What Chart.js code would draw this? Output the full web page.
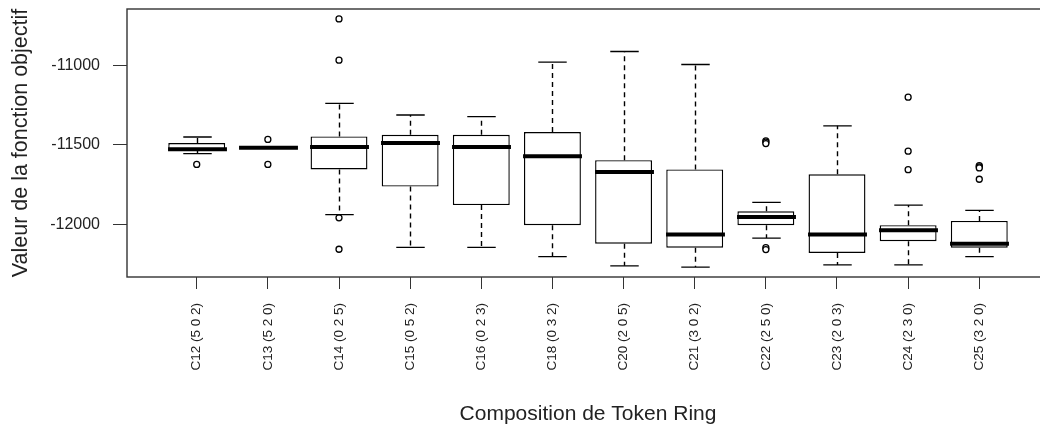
<!DOCTYPE html>
<html>
<head>
<meta charset="utf-8">
<script src="https://cdn.jsdelivr.net/npm/chart.js@4"></script>
<style>
  html, body { margin: 0; padding: 0; background: #fff; overflow: hidden; }
</style>
</head>
<body>
<canvas id="boxChart" width="1060" height="427"></canvas>
<script>
// Data
const categories = ['C12 (5 0 2)', 'C13 (5 2 0)', 'C14 (0 2 5)', 'C15 (0 5 2)', 'C16 (0 2 3)', 'C18 (0 3 2)',
  'C20 (2 0 5)', 'C21 (3 0 2)', 'C22 (2 5 0)', 'C23 (2 0 3)', 'C24 (2 3 0)', 'C25 (3 2 0)'];
const positions = [1, 2, 3, 4, 5, 6, 7, 8, 9, 10, 11, 12];
const whiskerLow = [-11555, -11521, -11938, -12143, -12143, -12201, -12259, -12267, -12085, -12253, -12253, -12201];
const q1 = [-11535, -11521, -11654, -11762, -11878, -12004, -12120, -12145, -12004, -12178, -12104, -12145];
const medians = [-11528, -11519, -11514, -11489, -11514, -11571, -11671, -12062, -11952, -12062, -12035, -12120];
const q3 = [-11489, -11517, -11447, -11437, -11437, -11420, -11596, -11654, -11917, -11685, -12004, -11977];
const whiskerHigh = [-11451, -11517, -11240, -11313, -11323, -10981, -10915, -10996, -11861, -11381, -11878, -11911];
const outliers = [
  [-11623],
  [-11466, -11623],
  [-10710, -10969, -11958, -12155],
  [], [], [], [], [],
  [-11475, -11483, -11492, -12145, -12157],
  [],
  [-11201, -11540, -11656],
  [-11630, -11638, -11645, -11716]
];
const yTicks = [-12000, -11500, -11000];

// Flatten outliers into points
const outlierPoints = [];
outliers.forEach((list, i) => {
  list.forEach(v => outlierPoints.push({ x: positions[i], y: v }));
});

// Whiskers, caps, medians and frame drawn through the scales
const boxExtras = {
  id: 'boxExtras',
  afterDatasetsDraw(chart) {
    const { ctx, chartArea, scales: { x, y } } = chart;
    const step = x.getPixelForValue(2) - x.getPixelForValue(1);
    const boxW = step * 0.8;
    const capW = boxW * 0.5;
    ctx.save();
    ctx.strokeStyle = '#000';
    positions.forEach((p, i) => {
      const cx = Math.round(x.getPixelForValue(p)) + 0.5;
      // dashed whiskers
      ctx.lineWidth = 1.4;
      ctx.setLineDash([5, 4]);
      ctx.beginPath();
      ctx.moveTo(cx, y.getPixelForValue(q3[i]));
      ctx.lineTo(cx, y.getPixelForValue(whiskerHigh[i]));
      ctx.moveTo(cx, y.getPixelForValue(q1[i]));
      ctx.lineTo(cx, y.getPixelForValue(whiskerLow[i]));
      ctx.stroke();
      // caps
      ctx.setLineDash([]);
      ctx.beginPath();
      ctx.moveTo(cx - capW / 2, y.getPixelForValue(whiskerHigh[i]));
      ctx.lineTo(cx + capW / 2, y.getPixelForValue(whiskerHigh[i]));
      ctx.moveTo(cx - capW / 2, y.getPixelForValue(whiskerLow[i]));
      ctx.lineTo(cx + capW / 2, y.getPixelForValue(whiskerLow[i]));
      ctx.stroke();
      // median
      ctx.lineWidth = 4;
      ctx.beginPath();
      ctx.moveTo(cx - boxW / 2 - 1, y.getPixelForValue(medians[i]));
      ctx.lineTo(cx + boxW / 2 + 1, y.getPixelForValue(medians[i]));
      ctx.stroke();
    });
    // plot frame
    ctx.lineWidth = 1.4;
    ctx.strokeStyle = '#333';
    ctx.strokeRect(chartArea.left, chartArea.top, chartArea.right - chartArea.left, chartArea.bottom - chartArea.top);
    ctx.restore();
  }
};

const ctx = document.getElementById('boxChart');
new Chart(ctx, {
  type: 'bar',
  data: {
    datasets: [
      {
        label: 'Boîtes',
        data: positions.map((p, i) => ({ x: p, y: [q1[i], q3[i]] })),
        backgroundColor: '#ffffff',
        borderColor: '#000000',
        borderWidth: 1.4,
        borderSkipped: false,
        barPercentage: 0.8,
        categoryPercentage: 1.0,
        order: 2
      },
      {
        type: 'scatter',
        label: 'Valeurs extrêmes',
        data: outlierPoints,
        pointStyle: 'circle',
        pointRadius: 3,
        pointBackgroundColor: '#ffffff',
        pointBorderColor: '#000000',
        pointBorderWidth: 1.3,
        order: 1
      }
    ]
  },
  options: {
    responsive: false,
    animation: false,
    layout: {
      padding: { left: 0, top: 9, right: 11, bottom: 0 }
    },
    plugins: {
      legend: { display: false },
      tooltip: { enabled: false }
    },
    scales: {
      x: {
        type: 'linear',
        min: 0.02,
        max: 12.98,
        offset: false,
        grid: { offset: false, drawOnChartArea: false, drawTicks: true, tickLength: 12, color: '#333' },
        border: { display: false },
        afterBuildTicks: function (scale) {
          scale.ticks = positions.map(v => ({ value: v }));
        },
        afterFit: function (scale) {
          scale.height = 150;
          scale.paddingLeft = 0;
          scale.paddingRight = 0;
        },
        ticks: {
          autoSkip: false,
          minRotation: 90,
          maxRotation: 90,
          padding: 14,
          color: '#222',
          font: { family: '"Liberation Sans", Arial, sans-serif', size: 13.5 },
          callback: function (value, index) {
            return categories[index];
          }
        },
        title: {
          display: true,
          text: 'Composition de Token Ring',
          color: '#222',
          padding: { top: 0, bottom: 0 },
          font: { family: '"Liberation Sans", Arial, sans-serif', size: 21 }
        }
      },
      y: {
        type: 'linear',
        min: -12329,
        max: -10648,
        grid: { drawOnChartArea: false, drawTicks: true, tickLength: 14, color: '#333' },
        border: { display: false },
        afterBuildTicks: function (scale) {
          scale.ticks = yTicks.map(v => ({ value: v }));
        },
        afterFit: function (scale) {
          scale.width = 127;
          scale.paddingTop = 0;
          scale.paddingBottom = 0;
        },
        ticks: {
          padding: 13,
          color: '#222',
          font: { family: '"Liberation Sans", Arial, sans-serif', size: 16 },
          callback: function (value) {
            return String(value);
          }
        },
        title: {
          display: true,
          text: 'Valeur de la fonction objectif',
          color: '#222',
          padding: { top: 8, bottom: 0 },
          font: { family: '"Liberation Sans", Arial, sans-serif', size: 21.5 }
        }
      }
    }
  },
  plugins: [boxExtras]
});
</script>
</body>
</html>
